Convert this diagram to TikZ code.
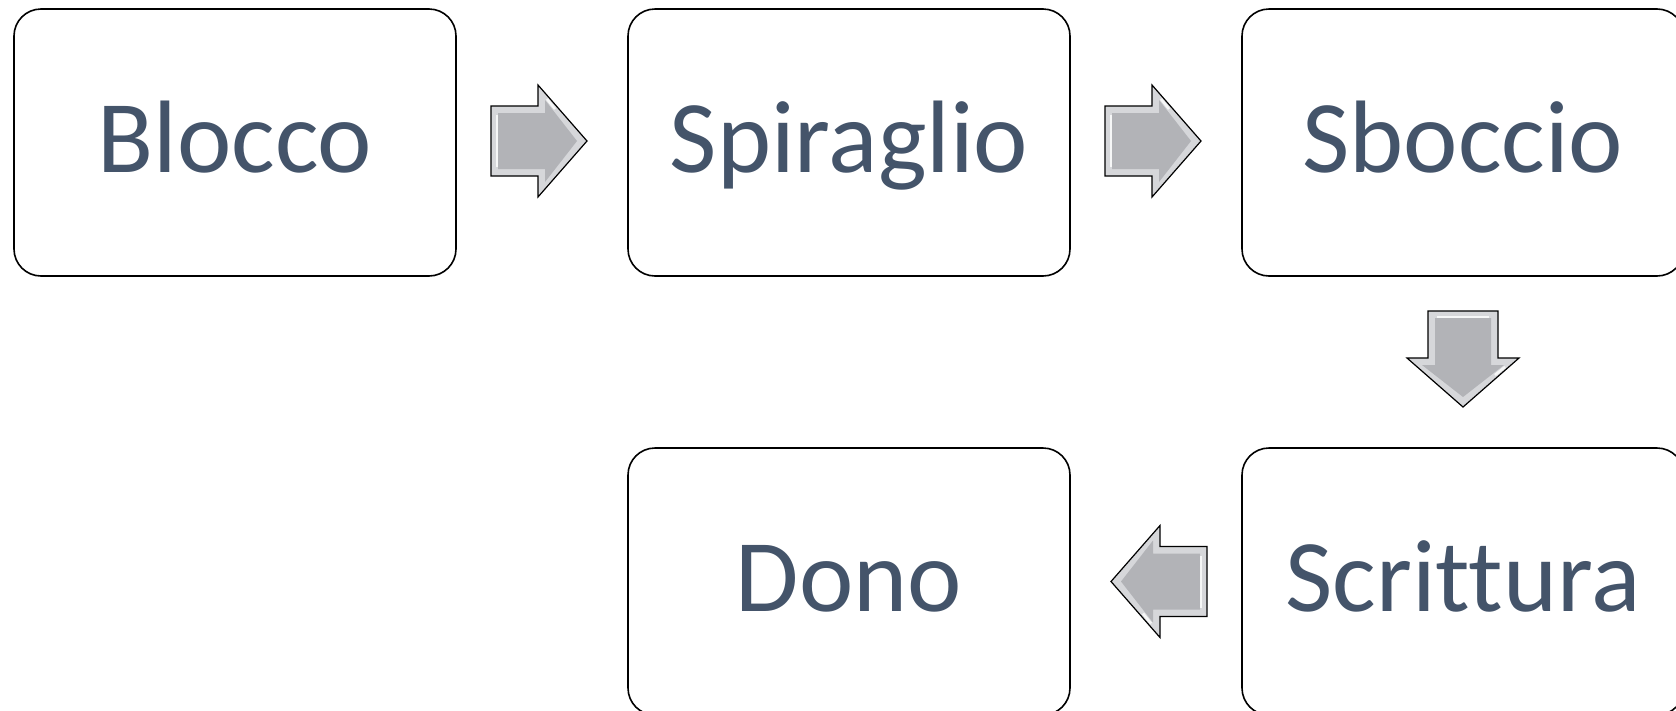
\documentclass[tikz,border=0pt]{standalone}
\usepackage{fontspec}
\setmainfont[Ligatures={NoCommon,NoRare,NoContextual}]{Carlito}
\usetikzlibrary{calc}
\definecolor{txt}{HTML}{44546A}
\definecolor{argray}{HTML}{B2B3B7}
\definecolor{arlight}{HTML}{D6D7DA}
\begin{document}
\begin{tikzpicture}[x=1pt,y=-1pt,
  box/.style={draw=black, line width=1.6pt, rounded corners=27pt,
    minimum width=442pt, minimum height=267pt, inner sep=0pt,
    text=txt, font=\fontsize{103}{108}\selectfont,
    text height=88pt, text depth=29pt},
  pics/barrow/.style={code={
    \fill[arlight] (-48,-35) -- (-1,-35) -- (-1,-#1) -- (48,0) -- (-1,#1) -- (-1,35) -- (-48,35) -- cycle;
    \fill[argray] (-41,-28) -- (6,-28) -- (6,-#1+15) -- (38,0) -- (6,#1-15) -- (6,28) -- (-41,28) -- cycle;
    \draw[white, line width=2.5pt, opacity=0.8] (-42,-26) -- (-42,26);
    \draw[white, line width=2.5pt, opacity=0.8] (8,-#1+14) -- (16,-#1+24);
    \draw[white, line width=2.5pt, opacity=0.8] (22,#1-20) -- (32,#1-32);
    \draw[black, line width=1.2pt, line join=miter] (-48,-35) -- (-1,-35) -- (-1,-#1) -- (48,0) -- (-1,#1) -- (-1,35) -- (-48,35) -- cycle;
  }}]
\clip (0,0) rectangle (1676,710);
\fill[white] (0,0) rectangle (1676,710);
\node[box] (b1) at (235,142.5) {Blocco};
\node[box] (b2) at (849,142.5) {Spiraglio};
\node[box] (b3) at (1463,142.5) {Sboccio};
\node[box] (b4) at (1463,581.5) {Scrittura};
\node[box] (b5) at (849,581.5) {Dono};
\path ($(b1.east)!0.5!(b2.west)$) ++(-3,-1.5) pic {barrow=56};
\path ($(b2.east)!0.5!(b3.west)$) ++(-3,-1.5) pic {barrow=56};
\path ($(b3.south)!0.5!(b4.north)$) ++(0,-3) pic[rotate=-90] {barrow=56};
\path ($(b4.west)!0.5!(b5.east)$) ++(3,0) pic[rotate=180] {barrow=56};
\end{tikzpicture}
\end{document}
